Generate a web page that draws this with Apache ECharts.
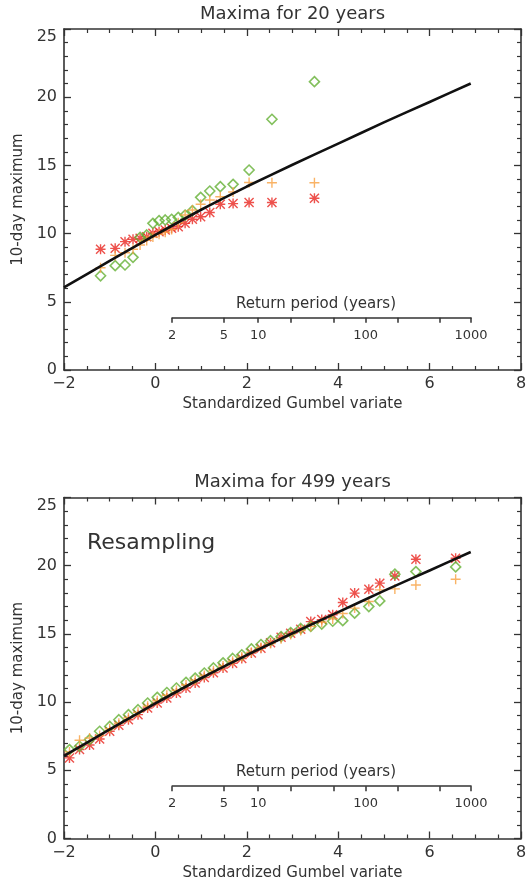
<!DOCTYPE html>
<html>
<head>
<meta charset="utf-8">
<title>Maxima - Gumbel plots</title>
<script src="https://cdn.jsdelivr.net/npm/echarts@6/dist/echarts.min.js"></script>
<style>
  html, body { margin: 0; padding: 0; background: #fff; }
  #chart { width: 530px; height: 885px; }
</style>
</head>
<body>
<div id="chart"></div>
<script>
// top panel: maxima for 20 years (plotting position on the Gumbel scale)
var topX      = [-1.20, -0.88, -0.665, -0.49, -0.335, -0.19, -0.055, 0.08, 0.215, 0.355, 0.50, 0.65, 0.81, 0.99, 1.19, 1.42, 1.70, 2.05, 2.55, 3.48];
var topGreen  = [6.91, 7.65, 7.70, 8.26, 9.73, 9.90, 10.75, 10.95, 11.00, 11.05, 11.19, 11.36, 11.68, 12.66, 13.12, 13.44, 13.61, 14.66, 18.38, 21.14];
var topOrange = [7.50, 8.40, 8.60, 8.85, 9.16, 9.50, 9.75, 9.95, 10.10, 10.30, 10.80, 11.36, 11.73, 12.15, 12.46, 12.70, 13.05, 13.75, 13.73, 13.73];
var topRed    = [8.85, 8.92, 9.41, 9.58, 9.65, 9.77, 10.02, 10.14, 10.26, 10.39, 10.51, 10.75, 11.05, 11.24, 11.55, 12.15, 12.20, 12.28, 12.28, 12.59];

// bottom panel: maxima for 499 years (resampling)
var botX      = [-1.88, -1.66, -1.44, -1.22, -1.00, -0.80, -0.59, -0.38, -0.17, 0.04, 0.25, 0.46, 0.67, 0.87, 1.07, 1.27, 1.48, 1.69, 1.89, 2.10, 2.31, 2.52, 2.75, 2.96, 3.18, 3.40, 3.64, 3.88, 4.10, 4.36, 4.67, 4.91, 5.24, 5.70, 6.57];
var botGreen  = [6.52, 6.76, 7.25, 7.86, 8.22, 8.71, 9.08, 9.44, 9.93, 10.35, 10.70, 11.03, 11.45, 11.76, 12.13, 12.50, 12.88, 13.20, 13.47, 13.90, 14.22, 14.50, 14.80, 15.10, 15.40, 15.55, 15.72, 15.93, 15.97, 16.52, 17.00, 17.42, 19.38, 19.57, 19.91];
var botOrange = [6.35, 7.20, 7.37, 7.55, 8.05, 8.45, 8.85, 9.25, 9.70, 10.10, 10.50, 10.85, 11.25, 11.60, 11.95, 12.30, 12.65, 13.00, 13.30, 13.65, 14.00, 14.30, 14.65, 14.95, 15.25, 15.55, 15.85, 16.10, 16.50, 16.89, 17.37, 18.23, 18.30, 18.59, 19.01];
var botRed    = [5.91, 6.52, 6.85, 7.30, 7.86, 8.30, 8.71, 9.08, 9.57, 9.93, 10.30, 10.67, 11.03, 11.40, 11.80, 12.15, 12.50, 12.85, 13.20, 13.60, 13.95, 14.35, 14.75, 15.05, 15.35, 15.90, 16.05, 16.40, 17.30, 17.99, 18.28, 18.72, 19.25, 20.47, 20.55];

// fitted curve (same in both panels)
var fitX = [-2, -1, 0, 1, 2, 3, 4, 5, 6, 6.9];
var fitY = [6.05, 8.0, 9.9, 11.75, 13.45, 15.05, 16.6, 18.15, 19.65, 21.0];

// return period axis
var returnPeriods = [2, 5, 10, 20, 50, 100, 200, 500, 1000];
var returnLabels = [2, 5, 10, 100, 1000];

var GREEN = '#64b034';
var ORANGE = '#f7a040';
var RED = '#e8261f';
var INK = '#333';
var FONT = 'DejaVu Sans';

var X_MIN = -2, X_MAX = 8;
var PLOT_LEFT = 64, PLOT_W = 457, PLOT_H = 341;
var PANEL_TOP = [29, 497.5];
var RP_DY = 288.7;

function gumbel(T) { return -Math.log(-Math.log(1 - 1 / T)); }
function toPeriod(v) { return Math.round(1 / (1 - Math.exp(-Math.exp(-v)))); }

var PLUS = 'path://M4.3,0H5.7V4.3H10V5.7H5.7V10H4.3V5.7H0V4.3H4.3Z';
var STAR = 'path://M4.3,0H5.7V4.3H10V5.7H5.7V10H4.3V5.7H0V4.3H4.3Z M0,1L1,0L10,9L9,10Z M9,0L10,1L1,10L0,9Z';

var rpLeft = PLOT_LEFT + (gumbel(2) - X_MIN) / (X_MAX - X_MIN) * PLOT_W;
var rpWidth = (gumbel(1000) - gumbel(2)) / (X_MAX - X_MIN) * PLOT_W;

var grids = [], xAxes = [], yAxes = [], series = [], graphics = [], titles = [];

function lineStyle(w) { return { color: INK, width: w }; }

function addPanel(p, title, xs, green, orange, red) {
    var g = grids.length;
    grids.push({ left: PLOT_LEFT, top: PANEL_TOP[p], width: PLOT_W, height: PLOT_H });
    ['bottom', 'top'].forEach(function (pos) {
        xAxes.push({
            type: 'value', gridIndex: g, position: pos,
            min: X_MIN, max: X_MAX, interval: 2,
            axisLine: { show: true, onZero: false, lineStyle: lineStyle(1.6) },
            axisTick: { show: true, inside: true, length: 7, lineStyle: lineStyle(1.3) },
            minorTick: { show: true, splitNumber: 4, length: 4, lineStyle: lineStyle(1.2) },
            splitLine: { show: false },
            axisLabel: {
                show: pos === 'bottom', color: INK, fontFamily: FONT, fontSize: 16, margin: 6,
                formatter: function (v) { return v < 0 ? '\u2212' + (-v) : String(v); }
            },
            name: pos === 'bottom' ? 'Standardized Gumbel variate' : '',
            nameLocation: 'middle', nameGap: 27,
            nameTextStyle: { color: INK, fontFamily: FONT, fontSize: 15 }
        });
    });
    ['left', 'right'].forEach(function (pos) {
        yAxes.push({
            type: 'value', gridIndex: g, position: pos,
            min: 0, max: 25, interval: 5,
            axisLine: { show: true, onZero: false, lineStyle: lineStyle(1.6) },
            axisTick: { show: true, inside: true, length: 7, lineStyle: lineStyle(1.3) },
            minorTick: { show: true, splitNumber: 5, length: 4, lineStyle: lineStyle(1.2) },
            splitLine: { show: false },
            axisLabel: {
                show: pos === 'left', color: INK, fontFamily: FONT, fontSize: 16, margin: 7,
                verticalAlignMaxLabel: 'top'
            },
            name: pos === 'left' ? '10-day maximum' : '',
            nameLocation: 'middle', nameGap: 36,
            nameTextStyle: { color: INK, fontFamily: FONT, fontSize: 15 }
        });
    });
    var xi = xAxes.length - 2, yi = yAxes.length - 2;

    // return period sub axis
    var rg = grids.length;
    grids.push({ left: rpLeft, top: PANEL_TOP[p] + RP_DY - 1, width: rpWidth, height: 1 });
    xAxes.push({
        type: 'value', gridIndex: rg, position: 'bottom',
        min: gumbel(2), max: gumbel(1000),
        axisLine: { show: true, onZero: false, lineStyle: lineStyle(1.5) },
        axisTick: { show: true, inside: false, length: 5, customValues: returnPeriods.map(gumbel), lineStyle: lineStyle(1.5) },
        splitLine: { show: false },
        axisLabel: {
            color: INK, fontFamily: FONT, fontSize: 13, margin: 11,
            customValues: returnLabels.map(gumbel),
            formatter: function (v) { return String(toPeriod(v)); }
        }
    });
    yAxes.push({ type: 'value', gridIndex: rg, show: false, min: 0, max: 1 });

    graphics.push({
        type: 'text', x: 316, y: PANEL_TOP[p] + RP_DY - 14,
        style: { text: 'Return period (years)', fill: INK, font: '15px "' + FONT + '"', align: 'center', verticalAlign: 'middle' }
    });
    titles.push({
        text: title, left: PLOT_LEFT + PLOT_W / 2, top: PANEL_TOP[p] - 24, padding: 0, textAlign: 'center',
        textStyle: { color: INK, fontFamily: FONT, fontSize: 18, fontWeight: 'normal' }
    });

    function pts(ys) { return xs.map(function (x, i) { return [x, ys[i]]; }); }
    series.push({
        type: 'scatter', xAxisIndex: xi, yAxisIndex: yi, data: pts(red),
        symbol: STAR, symbolSize: 10, itemStyle: { color: RED }, z: 2
    });
    series.push({
        type: 'scatter', xAxisIndex: xi, yAxisIndex: yi, data: pts(green),
        symbol: 'diamond', symbolSize: 10,
        itemStyle: { color: 'rgba(0,0,0,0)', borderColor: GREEN, borderWidth: 1.6 }, z: 3
    });
    series.push({
        type: 'scatter', xAxisIndex: xi, yAxisIndex: yi, data: pts(orange),
        symbol: PLUS, symbolSize: 10, itemStyle: { color: ORANGE }, z: 4
    });
    series.push({
        type: 'line', xAxisIndex: xi, yAxisIndex: yi,
        data: fitX.map(function (x, i) { return [x, fitY[i]]; }),
        showSymbol: false, symbol: 'none', smooth: 0.2,
        lineStyle: { color: '#111', width: 2.6 }, z: 5
    });
}

addPanel(0, 'Maxima for 20 years', topX, topGreen, topOrange, topRed);
addPanel(1, 'Maxima for 499 years', botX, botGreen, botOrange, botRed);

graphics.push({
    type: 'text', x: 87, y: 543,
    style: { text: 'Resampling', fill: INK, font: '22px "' + FONT + '"', align: 'left', verticalAlign: 'middle' }
});

var chart = echarts.init(document.getElementById('chart'), null, { renderer: 'canvas' });
chart.setOption({
    animation: false,
    backgroundColor: '#fff',
    title: titles,
    grid: grids,
    xAxis: xAxes,
    yAxis: yAxes,
    graphic: graphics,
    series: series
});
</script>
</body>
</html>
